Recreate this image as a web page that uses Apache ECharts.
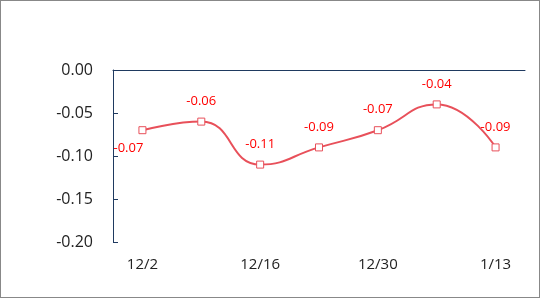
<!DOCTYPE html>
<html><head><meta charset="utf-8">
<script src="https://cdn.jsdelivr.net/npm/echarts@6/dist/echarts.min.js"></script>
<style>html,body{margin:0;padding:0;background:#fff}#c{width:538px;height:296px;border:1px solid #888}</style>
</head><body><div id="c"></div>
<script>
var categories = ['12/2','12/9','12/16','12/23','12/30','1/6','1/13'];
var values = [-0.07,-0.06,-0.11,-0.09,-0.07,-0.04,-0.09];
var yTicks = [0,-0.05,-0.10,-0.15,-0.20];

var chart = echarts.init(document.getElementById('c'));
var seriesData = values.map(function(v,i){
  var d = {value:v};
  if(i===0){ d.label = {position:'bottom', distance:5, offset:[-14,3]}; }
  return d;
});
chart.setOption({
  animation:false,
  grid:{left:112,right:14,top:69,bottom:55},
  xAxis:[{
    type:'category', data:categories, position:'bottom', boundaryGap:true,
    axisLine:{show:false, onZero:false}, axisTick:{show:false},
    axisLabel:{interval:1, margin:15, fontSize:15, color:'#222', fontFamily:'Open Sans'}
  },{
    type:'category', data:categories, position:'top', boundaryGap:true,
    axisLine:{show:true, onZero:false, lineStyle:{color:'#1f3a60', width:1}}, axisTick:{show:false},
    axisLabel:{show:false}
  }],
  yAxis:{
    type:'value', min:-0.2, max:0, interval:0.05,
    axisLine:{show:true, lineStyle:{color:'#1f3a60', width:1}},
    axisTick:{show:true, inside:true, length:5, lineStyle:{color:'#1f3a60'}},
    splitLine:{show:false},
    axisLabel:{margin:20, fontSize:16, color:'#222', fontFamily:'Open Sans',
      formatter:function(v){return v.toFixed(2);}}
  },
  series:[{
    type:'line', data:seriesData, smooth:0.5, xAxisIndex:0,
    symbol:'rect', symbolSize:7,
    itemStyle:{color:'#fff', borderColor:'#e8505a', borderWidth:1},
    lineStyle:{color:'#e8505a', width:2},
    label:{show:true, position:'top', distance:10, color:'#ff0000', fontSize:13, fontFamily:'Open Sans',
      formatter:function(p){return p.value.toFixed(2);}}
  }]
});
</script></body></html>
